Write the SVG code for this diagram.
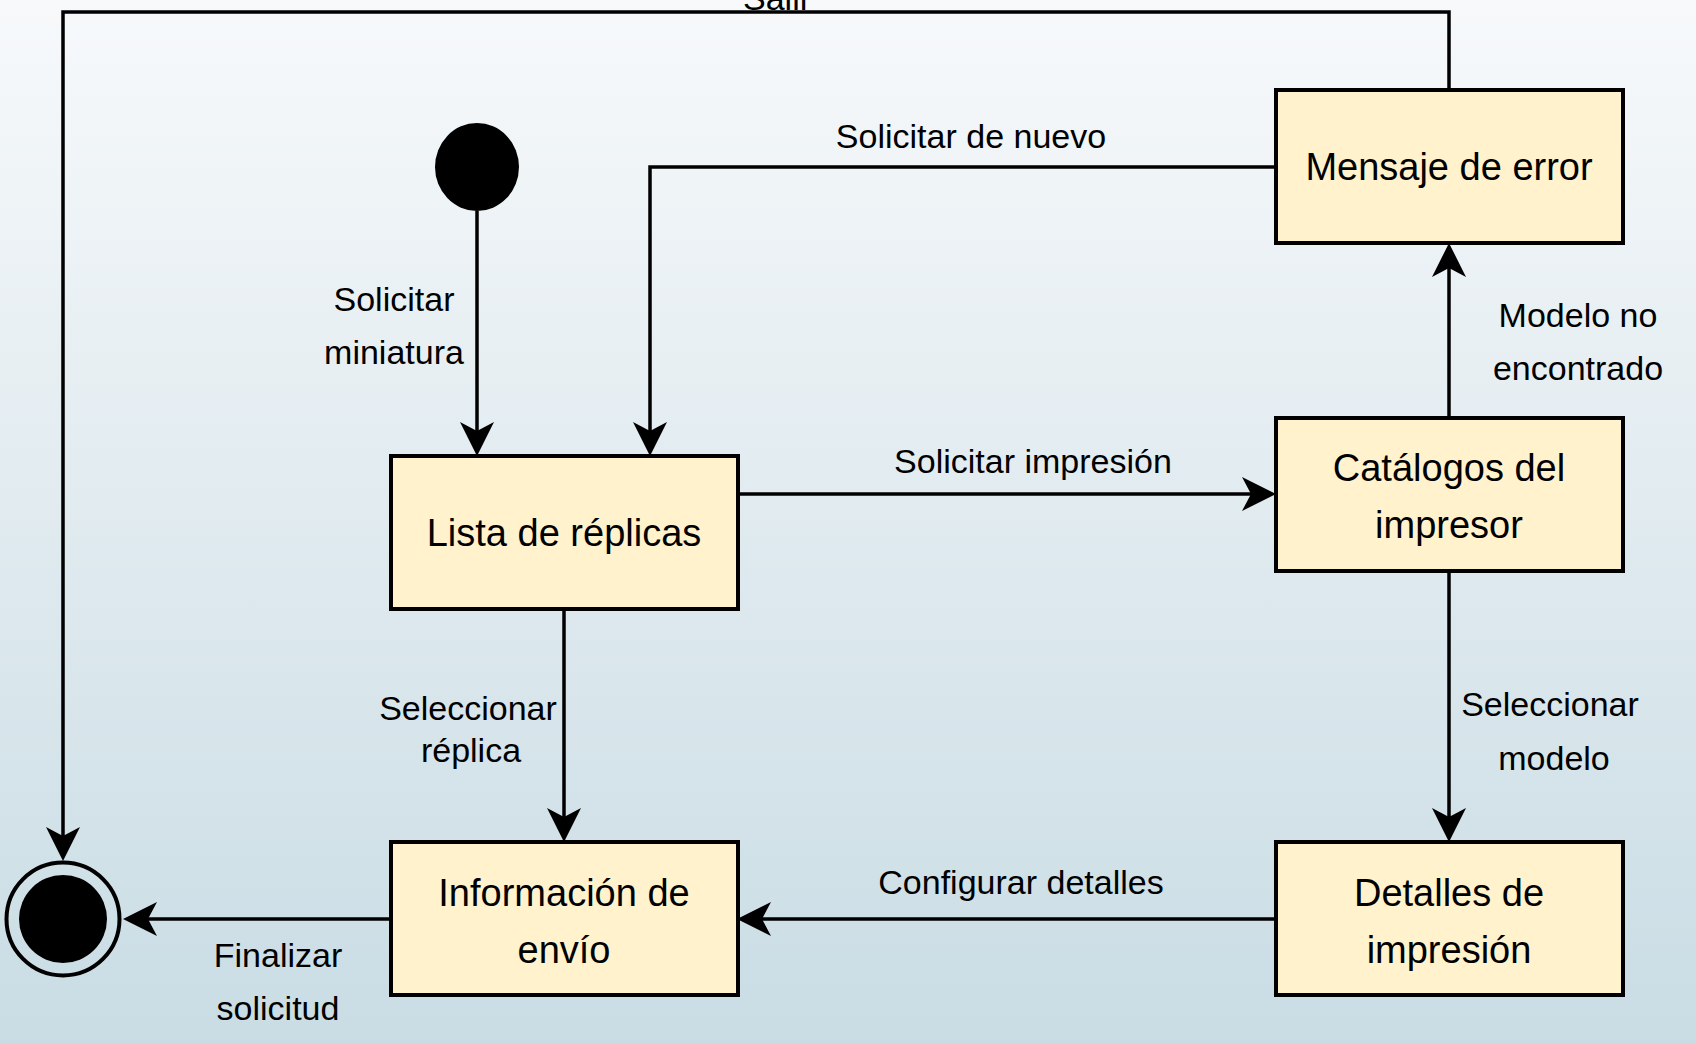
<svg xmlns="http://www.w3.org/2000/svg" width="1696" height="1044" viewBox="0 0 1696 1044">
<defs>
<linearGradient id="bg" x1="0" y1="0" x2="0" y2="1">
<stop offset="0" stop-color="#f7f9fb"/>
<stop offset="1" stop-color="#c9dce4"/>
</linearGradient>
<marker id="arr" markerUnits="userSpaceOnUse" markerWidth="40" markerHeight="40" viewBox="-40 -20 40 40" refX="-10" refY="0" orient="auto">
<path d="M0,0 L-34,-17 L-25,0 L-34,17 Z" fill="#000"/>
</marker>
</defs>
<style>
.box{fill:#fff2cc;stroke:#000;stroke-width:4}
.edge{fill:none;stroke:#000;stroke-width:3.5;marker-end:url(#arr)}
.lbl{font-family:"Liberation Sans",Arial,sans-serif;font-size:34px;fill:#000;text-anchor:middle}
.txt{font-family:"Liberation Sans",Arial,sans-serif;font-size:38px;fill:#000;text-anchor:middle}
</style>
<rect x="0" y="0" width="1696" height="1044" fill="url(#bg)"/>

<g id="connectors">
<path class="edge" d="M477,211 V446"/>
<path class="edge" d="M1276,167 H650 V446"/>
<path class="edge" d="M737,494 H1266"/>
<path class="edge" d="M1449,572 V253"/>
<path class="edge" d="M1449,572 V832"/>
<path class="edge" d="M1276,919 H747"/>
<path class="edge" d="M564,610 V832"/>
<path class="edge" d="M390,919 H133"/>
<path class="edge" d="M1449,90 V12 H63 V851"/>
<text class="lbl" x="777" y="10">Salir</text>
<text class="lbl" x="971" y="148">Solicitar de nuevo</text>
<text class="lbl" x="394" y="311">Solicitar</text>
<text class="lbl" x="394" y="364">miniatura</text>
<text class="lbl" x="1578" y="327">Modelo no</text>
<text class="lbl" x="1578" y="380">encontrado</text>
<text class="lbl" x="1033" y="473">Solicitar impresión</text>
<text class="lbl" x="468" y="720">Seleccionar</text>
<text class="lbl" x="471" y="762">réplica</text>
<text class="lbl" x="1550" y="716">Seleccionar</text>
<text class="lbl" x="1554" y="770">modelo</text>
<text class="lbl" x="1021" y="894">Configurar detalles</text>
<text class="lbl" x="278" y="967">Finalizar</text>
<text class="lbl" x="278" y="1020">solicitud</text>
</g>

<g id="inicio">
<ellipse cx="477" cy="167" rx="42" ry="44" fill="#000"/>
</g>

<g id="fin">
<circle cx="63" cy="919" r="56.5" fill="none" stroke="#000" stroke-width="4"/>
<circle cx="63" cy="919" r="44" fill="#000"/>
</g>

<g id="mensaje-error">
<rect class="box" x="1276" y="90" width="347" height="153"/>
<text class="txt" x="1449" y="180">Mensaje de error</text>
</g>

<g id="catalogos">
<rect class="box" x="1276" y="418" width="347" height="153"/>
<text class="txt" x="1449" y="481">Catálogos del</text>
<text class="txt" x="1449" y="538">impresor</text>
</g>

<g id="lista-replicas">
<rect class="box" x="391" y="456" width="347" height="153"/>
<text class="txt" x="564" y="546">Lista de réplicas</text>
</g>

<g id="informacion-envio">
<rect class="box" x="391" y="842" width="347" height="153"/>
<text class="txt" x="564" y="906">Información de</text>
<text class="txt" x="564" y="963">envío</text>
</g>

<g id="detalles-impresion">
<rect class="box" x="1276" y="842" width="347" height="153"/>
<text class="txt" x="1449" y="906">Detalles de</text>
<text class="txt" x="1449" y="963">impresión</text>
</g>
</svg>
